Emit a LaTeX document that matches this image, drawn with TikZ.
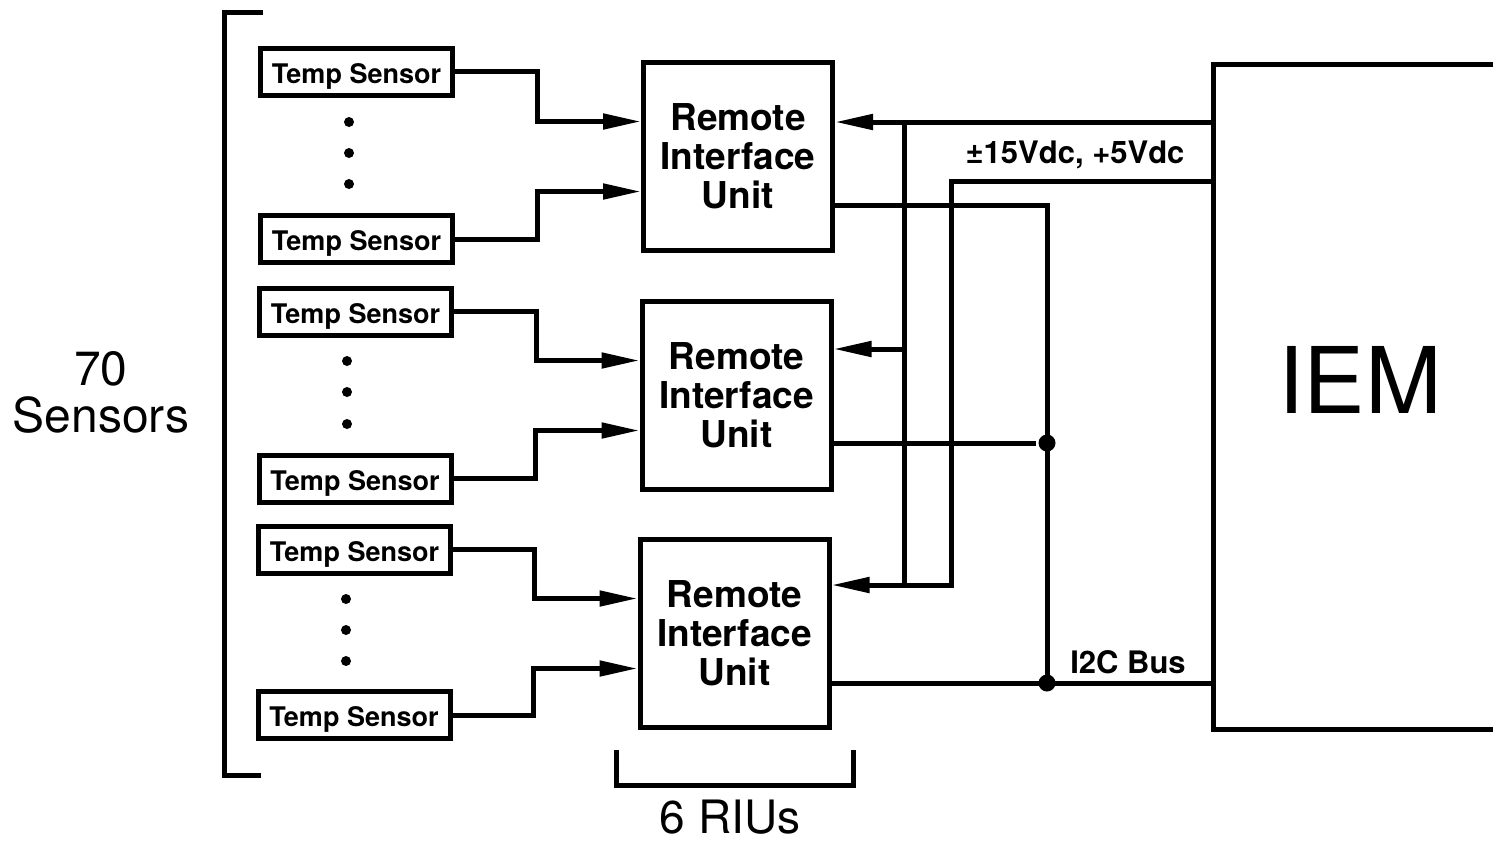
\documentclass[tikz,border=0pt]{standalone}
\usepackage{fontspec}
\setmainfont{TeX Gyre Heros}
\usetikzlibrary{arrows.meta}

\begin{document}
\begin{tikzpicture}[x=0.5pt,y=-0.5pt,line width=2.5pt,>={Triangle[length=19pt,width=7.5pt]}]
       \tikzstyle{sensor}=[draw,inner sep=0pt,minimum width=96pt,minimum height=23.5pt,text height=11.5pt,text depth=0pt,font=\fontsize{13.5}{15}\selectfont\bfseries]
       \tikzstyle{riu}=[draw,inner sep=0pt,minimum width=94.5pt,minimum height=94pt,align=center,font=\fontsize{18.5}{19.5}\selectfont\bfseries]
       \tikzstyle{junction}=[circle,fill,inner sep=0pt,minimum size=8.5pt]
       \tikzstyle{buslabel}=[font=\fontsize{15.5}{16}\selectfont\bfseries]

       \useasboundingbox (0,0) rectangle (1493,843);
       \clip (0,0) rectangle (1493,843);

       % remote interface units
       \node[riu] (riu1) at (738,156.5) {Remote\\Interface\\Unit};
       \node[riu] (riu2) at (736.5,395.5) {Remote\\Interface\\Unit};
       \node[riu] (riu3) at (734.5,633.5) {Remote\\Interface\\Unit};

       % temp sensors
       \node[sensor] (t1a) at (356.5,71.5) {Temp Sensor};
       \node[sensor] (t1b) at (356.5,239) {Temp Sensor};
       \node[sensor] (t2a) at (355.5,311.5) {Temp Sensor};
       \node[sensor] (t2b) at (355,478.5) {Temp Sensor};
       \node[sensor] (t3a) at (354.5,549.5) {Temp Sensor};
       \node[sensor] (t3b) at (354,715) {Temp Sensor};

       \fill (349,122) circle[radius=5] (349,153) circle[radius=5] (349,184) circle[radius=5];
       \fill (347,361) circle[radius=5] (347,392) circle[radius=5] (347,424) circle[radius=5];
       \fill (346,599) circle[radius=5] (346,630) circle[radius=5] (346,661) circle[radius=5];

       \draw[->] (t1a.east) -- ++(82,0) |- ([yshift=17.5pt]riu1.west);
       \draw[->] (t1b.east) -- ++(82,0) |- ([yshift=-17.5pt]riu1.west);
       \draw[->] (t2a.east) -- ++(82,0) |- ([yshift=17.5pt]riu2.west);
       \draw[->] (t2b.east) -- ++(82,0) |- ([yshift=-17.5pt]riu2.west);
       \draw[->] (t3a.east) -- ++(81,0) |- ([yshift=17.5pt]riu3.west);
       \draw[->] (t3b.east) -- ++(81,0) |- ([yshift=-17.5pt]riu3.west);

       % IEM
       \node[draw,minimum width=147.75pt,minimum height=332.5pt] (iem) at (1361,396.5) {};
       \node[font=\fontsize{46}{46}\selectfont] (iemtext) at (1360,380) {IEM};

       % power rails
       \coordinate (pa) at (904,122);
       \coordinate (pa2) at (904,349);
       \coordinate (pb) at (951,181);
       \coordinate (pb2) at (951,585);
       \draw[->] (iem.west |- pa) -- (riu1.east |- pa);
       \draw (pa) -- (pa |- pb2);
       \draw[->] (pa2) -- (riu2.east |- pa2);
       \draw[->] (iem.west |- pb) -- (pb) -- (pb2) -- (riu3.east |- pb2);
       \node[buslabel] (power) at (1075,155) {±15Vdc, +5Vdc};

       % I2C bus
       \coordinate (bus) at (1047,205);
       \node[junction] (j2) at (1047,443) {};
       \node[junction] (j3) at (1047,683) {};
       \draw (riu1.east |- bus) -- (bus) -- (j3.center);
       \draw (riu2.east |- j2) -- (j2);
       \draw (riu3.east |- j3) -- (iem.west |- j3);
       \node[buslabel] (i2c) at (1128,662) {I2C Bus};

       % brackets
       \draw (263,12.5) -- (224,12.5) -- (224,775) -- (261,775);
       \node[align=center,font=\fontsize{24}{23.5}\selectfont] (count) at (101,392) {70\\Sensors};
       \draw (616,750) -- (616,785) -- (853,785) -- (853,750);
       \node[font=\fontsize{23}{24}\selectfont] (rius) at (730,817) {6 RIUs};
\end{tikzpicture}
\end{document}
